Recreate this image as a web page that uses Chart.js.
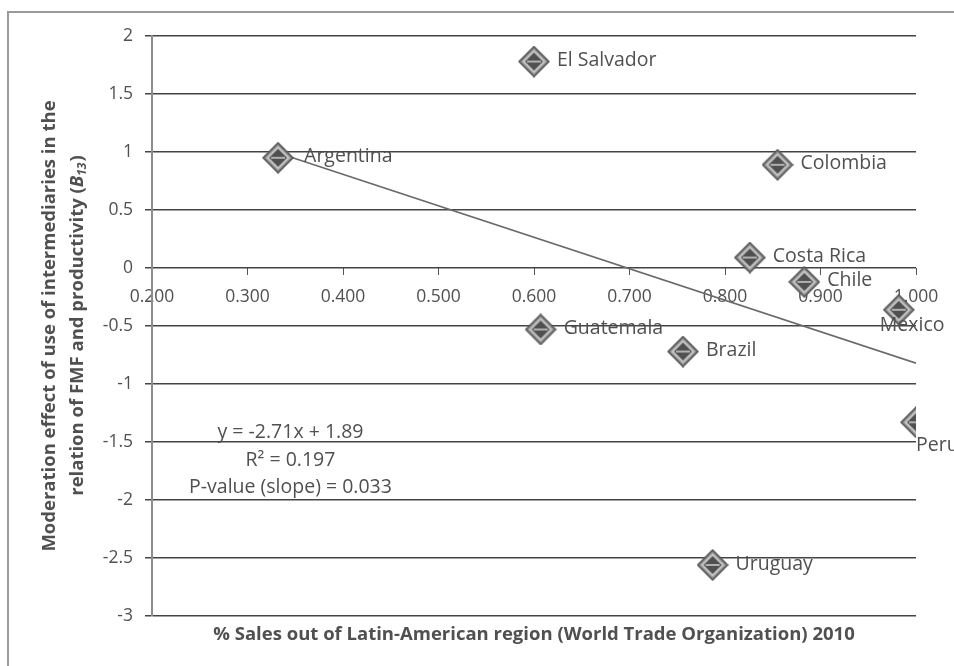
<!DOCTYPE html>
<html>
<head>
<meta charset="utf-8">
<script src="https://cdn.jsdelivr.net/npm/chart.js@4/dist/chart.umd.min.js"></script>
<style>
  html, body { margin: 0; padding: 0; background: #fff; }
  #wrap { position: relative; width: 954px; height: 666px; overflow: hidden; }
</style>
</head>
<body>
<div id="wrap"><canvas id="chart" width="954" height="666"></canvas></div>
<script>
// Datos
const COUNTRIES = ['Argentina', 'El Salvador', 'Colombia', 'Costa Rica', 'Chile', 'Mexico', 'Guatemala', 'Brazil', 'Peru', 'Uruguay'];
const SALES_OUT = [0.332, 0.600, 0.855, 0.826, 0.883, 0.982, 0.607, 0.756, 1.000, 0.787];
const EFFECT = [0.95, 1.78, 0.89, 0.09, -0.12, -0.36, -0.53, -0.72, -1.33, -2.56];
const TREND_X = [0.333, 1.000];
const TREND_Y = [0.99, -0.82];
const X_TICKS = [0.2, 0.3, 0.4, 0.5, 0.6, 0.7, 0.8, 0.9, 1.0];
const EQUATION = ['y = -2.71x + 1.89', 'R² = 0.197', 'P-value (slope) = 0.033'];

const TEXT = '#505050';
const FONT = '"Open Sans", "Liberation Sans", sans-serif';
const TITLE_PX = 18.5;

// marcador rombo gris
function makeDiamond(size) {
    const c = document.createElement('canvas');
    c.width = size; c.height = size;
    const g = c.getContext('2d');
    const h = size / 2;
    function dia(r, fill, stroke, lw) {
        g.beginPath();
        g.moveTo(h, h - r); g.lineTo(h + r, h); g.lineTo(h, h + r); g.lineTo(h - r, h); g.closePath();
        if (fill) { g.fillStyle = fill; g.fill(); }
        if (stroke) { g.strokeStyle = stroke; g.lineWidth = lw; g.stroke(); }
    }
    dia(h - 1, '#8a8a8a', '#555', 1.5);
    dia(h - 4, '#c4c4c4', null);
    dia(h - 7, '#505050', null);
    g.fillStyle = '#b0b0b0';
    g.fillRect(h - 7, h - 1, 14, 2);
    return c;
}

const points = COUNTRIES.map((c, i) => ({ x: SALES_OUT[i], y: EFFECT[i], label: c }));
const trend = TREND_X.map((x, i) => ({ x: x, y: TREND_Y[i] }));

const pointLabels = {
    id: 'pointLabels',
    afterDatasetsDraw(chart) {
        const ctx = chart.ctx;
        const meta = chart.getDatasetMeta(0);
        ctx.save();
        ctx.fillStyle = TEXT;
        ctx.font = '19.5px ' + FONT;
        ctx.textBaseline = 'middle';
        ctx.textAlign = 'left';
        meta.data.forEach((el, i) => {
            const name = COUNTRIES[i];
            let dx = 23, dy = -1;
            if (name === 'Mexico') { dx = -19; dy = 16; }
            if (name === 'Peru') { dx = 0; dy = 23; }
            if (name === 'Argentina') { dx = 26; }
            ctx.fillText(name, el.x + dx, el.y + dy);
        });
        ctx.restore();
    }
};

const extras = {
    id: 'extras',
    beforeDraw(chart) {
        const ctx = chart.ctx;
        ctx.save();
        ctx.strokeStyle = '#9a9a9a';
        ctx.lineWidth = 2;
        ctx.strokeRect(8, 12, chart.width + 20, chart.height + 20);
        ctx.restore();
    },
    afterDraw(chart) {
        const ctx = chart.ctx;
        const area = chart.chartArea;
        const xs = chart.scales.x, ys = chart.scales.y;
        const bold = 'bold ' + TITLE_PX + 'px ' + FONT;
        ctx.save();
        ctx.fillStyle = TEXT;

        // título eje X
        ctx.font = bold;
        ctx.textAlign = 'center';
        ctx.textBaseline = 'middle';
        ctx.fillText('% Sales out of Latin-American region (World Trade Organization) 2010', (area.left + area.right) / 2, 635);

        // ecuación
        ctx.font = '19.5px ' + FONT;
        const ex = xs.getPixelForValue(0.345), ey = ys.getPixelForValue(-1.42);
        EQUATION.forEach((t, i) => ctx.fillText(t, ex, ey + i * 27.5));

        // título eje Y (dos líneas, B13 en cursiva)
        const cy = (area.top + area.bottom) / 2;
        ctx.translate(0, cy);
        ctx.rotate(-Math.PI / 2);
        ctx.textBaseline = 'middle';
        ctx.font = bold;
        ctx.textAlign = 'center';
        ctx.fillText('Moderation effect of use of intermediaries in the', 0, 50);
        const p1 = 'relation of FMF and productivity (';
        const fB = 'bold italic ' + TITLE_PX + 'px ' + FONT;
        const fSub = 'bold italic 12px ' + FONT;
        const w1 = ctx.measureText(p1).width;
        ctx.font = fB; const wB = ctx.measureText('B').width;
        ctx.font = fSub; const wS = ctx.measureText('13').width;
        ctx.font = bold; const wP = ctx.measureText(')').width;
        let x0 = -(w1 + wB + wS + wP) / 2;
        ctx.textAlign = 'left';
        ctx.fillText(p1, x0, 78); x0 += w1;
        ctx.font = fB; ctx.fillText('B', x0, 78); x0 += wB;
        ctx.font = fSub; ctx.fillText('13', x0, 83); x0 += wS + 1;
        ctx.font = bold; ctx.fillText(')', x0, 78);
        ctx.restore();
    }
};

new Chart(document.getElementById('chart'), {
    type: 'scatter',
    data: {
        datasets: [{
            label: 'Countries',
            data: points,
            pointStyle: makeDiamond(32),
            pointRadius: 16,
            pointHoverRadius: 16,
            order: 0
        }, {
            label: 'Trend',
            type: 'line',
            data: trend,
            showLine: true,
            borderColor: '#6a6a6a',
            borderWidth: 1.6,
            pointRadius: 0,
            fill: false,
            order: 1
        }]
    },
    options: {
        responsive: false,
        animation: false,
        layout: { padding: { left: 0, top: 36, right: 38, bottom: 50 } },
        plugins: { legend: { display: false }, tooltip: { enabled: false } },
        scales: {
            x: {
                type: 'linear',
                position: { y: 0 },
                min: 0.2, max: 1.0,
                afterBuildTicks: s => { s.ticks = X_TICKS.map(v => ({ value: v })); },
                ticks: {
                    color: TEXT,
                    font: { family: FONT, size: 17.5 },
                    padding: 12,
                    maxRotation: 0,
                    callback: v => Number(v).toFixed(3)
                },
                grid: { drawOnChartArea: false, drawTicks: true, tickLength: 7, color: '#555', lineWidth: 1 },
                border: { display: false }
            },
            y: {
                min: -3, max: 2,
                afterFit: s => { s.width = 152; },
                ticks: {
                    stepSize: 0.5, color: TEXT, font: { family: FONT, size: 17.5 }, padding: 12,
                    callback: v => String(v)
                },
                grid: { color: '#444', lineWidth: 1.5, tickLength: 7 },
                border: { display: true, color: '#8c8c8c', width: 2 }
            }
        }
    },
    plugins: [pointLabels, extras]
});
</script>
</body>
</html>
